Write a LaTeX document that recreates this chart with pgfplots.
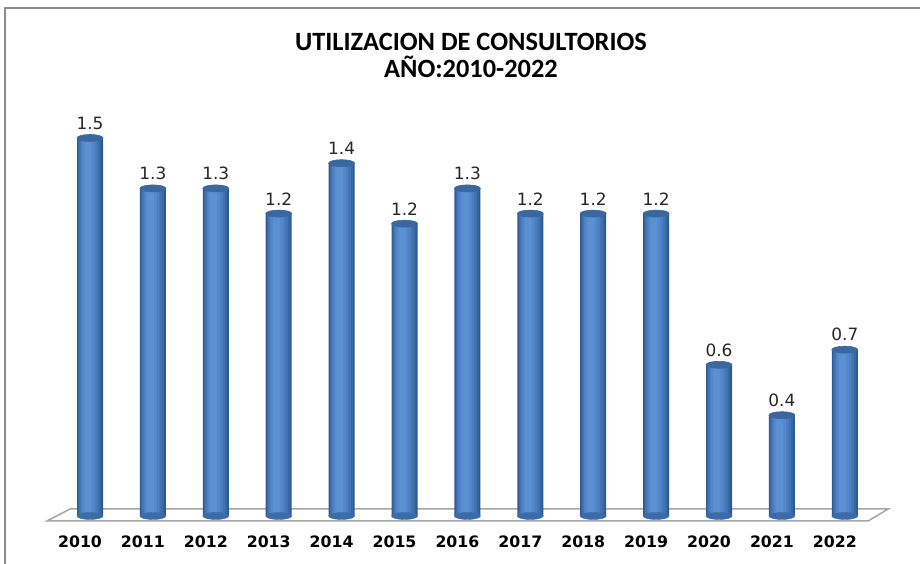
\documentclass[border=0pt]{standalone}
\usepackage{pgfplots}
\usepackage{pgfplotstable}
\pgfplotsset{compat=1.18}
\usepackage{fontspec}
\setmainfont{DejaVu Sans}
\newfontfamily\titlefont{Carlito}
\definecolor{bA}{HTML}{2D5A91}
\definecolor{bB}{HTML}{3868A3}
\definecolor{bC}{HTML}{4274B4}
\definecolor{bD}{HTML}{4B7FC2}
\definecolor{bE}{HTML}{5388CB}
\definecolor{bF}{HTML}{5B90D3}
\definecolor{bartop}{HTML}{3A679E}
\definecolor{barbot}{HTML}{3C6CA8}
\definecolor{floorc}{HTML}{A6A6A6}
\definecolor{framec}{HTML}{8C8C8C}
\definecolor{textc}{HTML}{262626}
\pgfdeclareplotmark{cyltop}{\pgfpathellipse{\pgfpointorigin}{\pgfqpoint{13bp}{0pt}}{\pgfqpoint{0pt}{3.5bp}}\pgfusepathqfillstroke}
\pgfplotstableread{
x y z
0 1.50 0
1 1.30 0
2 1.30 0
3 1.20 0
4 1.40 0
5 1.16 0
6 1.30 0
7 1.20 0
8 1.20 0
9 1.20 0
10 0.60 0
11 0.40 0
12 0.66 0
}\datatable
\begin{document}
\begin{tikzpicture}
\path[use as bounding box] (0,0) rectangle (920bp,564bp);
\draw[framec, line width=2bp] (5bp,0) -- (5bp,556bp) -- (920bp,556bp);
\node[font=\titlefont\bfseries\fontsize{26.5}{29}\selectfont, text=black] at (471bp,522.5bp) {UTILIZACION DE CONSULTORIOS};
\node[font=\titlefont\bfseries\fontsize{26.5}{29}\selectfont, text=black] at (471bp,497.5bp) {AÑO:2010-2022};
\begin{axis}[
  at={(27.1bp,48bp)}, anchor=south west,
  scale only axis, width=880.6bp, height=453.6bp,
  xmin=-1, xmax=13, ymin=0, ymax=1.8,
  clip=false,
  axis line style={draw=none},
  ytick=\empty,
  xtick={0,...,12},
  xticklabels={2010,2011,2012,2013,2014,2015,2016,2017,2018,2019,2020,2021,2022},
  major tick length=0pt,
  xticklabel style={font=\bfseries\fontsize{15.8}{18}\selectfont, text=black, xshift=-10bp, yshift=-16bp},
  /pgf/number format/assume math mode=true,
]
\draw[floorc, line width=1.5bp, fill=white] (axis cs:-0.684,-0.0198) -- (axis cs:12.37,-0.0198) -- (axis cs:12.69,0.0278) -- (axis cs:-0.318,0.0278) -- cycle;
\addplot[only marks, mark=cyltop, mark options={fill=barbot, draw=barbot}] table[x=x,y=z] {\datatable};
\addplot[ybar, bar width=26bp, draw=none, fill=bA,
  nodes near coords, point meta=y,
  nodes near coords style={font=\fontsize{17}{19}\selectfont, text=textc, anchor=south, yshift=5bp,
    /pgf/number format/.cd, fixed, precision=1, fixed zerofill}] table[x=x,y=y] {\datatable};
\addplot[ybar, bar width=23bp, bar shift=-0.3bp, draw=none, fill=bB] table[x=x,y=y] {\datatable};
\addplot[ybar, bar width=20bp, bar shift=-0.8bp, draw=none, fill=bC] table[x=x,y=y] {\datatable};
\addplot[ybar, bar width=16bp, bar shift=-1.3bp, draw=none, fill=bD] table[x=x,y=y] {\datatable};
\addplot[ybar, bar width=12bp, bar shift=-1.8bp, draw=none, fill=bE] table[x=x,y=y] {\datatable};
\addplot[ybar, bar width=7bp, bar shift=-2.2bp, draw=none, fill=bF] table[x=x,y=y] {\datatable};
\addplot[only marks, mark=cyltop, mark options={fill=bartop, draw=bB, line width=0.6bp}] table[x=x,y=y] {\datatable};
\end{axis}
\end{tikzpicture}
\end{document}
